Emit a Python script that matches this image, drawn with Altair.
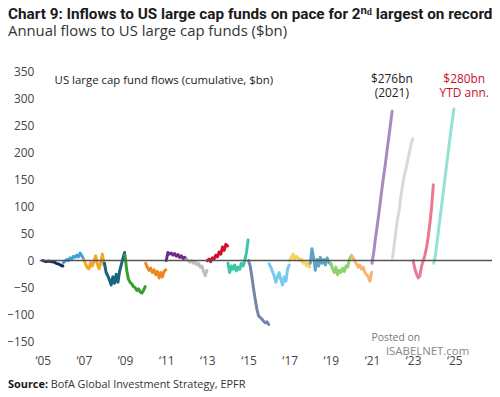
import altair as alt
import pandas as pd

# ---- data (cumulative flows, $bn, ~monthly points) ----
years = list(range(2005, 2025))
flows_2005 = [0, -1, -2, -1, -1, -2, -2, -3, -5, -6, -7, -9, -10]
flows_2006 = [-4, -1, 2, 0, 5, 3, 8, 6, 10, 7, 14, 9, 4]
flows_2007 = [2, -6, -13, -15, -4, -10, -2, 9, -6, -15, -5, 12, -8]
flows_2008 = [-5, -22, -28, -36, -45, -30, -42, -25, -40, -20, -8, 4, 15]
flows_2009 = [10, -18, -34, -40, -43, -48, -50, -55, -52, -58, -60, -55, -48]
flows_2010 = [-5, -12, -18, -14, -22, -17, -26, -20, -32, -22, -30, -20, -17]
flows_2011 = [0, 15, 12, 14, 10, 13, 8, 11, 6, 9, 4, 6, 3]
flows_2012 = [3, 0, -3, 0, -5, -2, -8, -5, -12, -10, -20, -28, -18]
flows_2013 = [0, 3, -2, 5, 3, 10, 7, 16, 12, 25, 19, 30, 27]
flows_2014 = [-5, -22, -10, -16, -8, -19, -12, -16, -5, -10, 0, 15, 38]
flows_2015 = [0, -10, -30, -52, -72, -90, -102, -105, -108, -112, -115, -113, -118]
flows_2016 = [-6, -12, -20, -28, -40, -30, -22, -35, -45, -30, -38, -15, -8]
flows_2017 = [0, 6, 12, 3, 8, 5, 0, 3, -5, -2, -10, -4, -12]
flows_2018 = [-5, 22, 5, -18, 2, -10, 6, -5, 2, -8, 5, -3, -6]
flows_2019 = [-5, -15, -22, -12, -26, -18, -22, -14, -20, -10, -12, 2, 8]
flows_2020 = [10, 5, 0, -6, -12, -8, -16, -12, -22, -26, -30, -38, -22]
flows_2021 = [-5, 15, 40, 62, 85, 110, 135, 158, 180, 205, 228, 252, 276]
flows_2022 = [5, 30, 55, 78, 95, 120, 140, 158, 170, 185, 200, 215, 225]
flows_2023 = [0, -15, -25, -32, -28, -10, 0, 10, 25, 45, 70, 100, 140]
flows_2024 = [-5, 10, 35, 60, 85, 110, 135, 160, 185, 210, 235, 258, 280]

colors = ["#1b2a5e", "#3aa3dc", "#f5a623", "#17657f", "#3a9e2c",
          "#f0861f", "#6b2d87", "#bdbdbd", "#d0102c", "#3cc6a8",
          "#7584ad", "#74cbef", "#f6d35c", "#5ba5c2", "#8bd46b",
          "#f7b374", "#a58bc2", "#d9d9d9", "#ea7a93", "#93e2d3"]

x_ticks = list(range(2005, 2026, 2))
y_ticks = list(range(-150, 351, 50))

all_flows = [flows_2005, flows_2006, flows_2007, flows_2008, flows_2009,
             flows_2010, flows_2011, flows_2012, flows_2013, flows_2014,
             flows_2015, flows_2016, flows_2017, flows_2018, flows_2019,
             flows_2020, flows_2021, flows_2022, flows_2023, flows_2024]

rows = []
for yr, vals in zip(years, all_flows):
    n = len(vals) - 1
    for i, v in enumerate(vals):
        rows.append({"t": yr + i / n * 0.98, "v": v, "year": str(yr)})
df = pd.DataFrame(rows)

W, H = 456, 273
FONT = "Open Sans"

xscale = alt.Scale(domain=[2004.855, 2026.83], nice=False, zero=False)
yscale = alt.Scale(domain=[-150, 350], nice=False, zero=False)
y_axis = alt.Axis(values=y_ticks, title=None, grid=False, domain=False, ticks=False,
                  labelPadding=6, labelFontSize=12, labelColor="#444", labelFont=FONT,
                  labelOverlap=False, labelFlush=False)

lines = alt.Chart(df).mark_line(strokeWidth=3, strokeJoin="round", strokeCap="round").encode(
    x=alt.X("t:Q", scale=xscale,
            axis=alt.Axis(values=x_ticks, title=None, grid=False, domain=False, ticks=False,
                          labelPadding=14, labelFontSize=12, labelColor="#444", labelFont=FONT,
                          labelOverlap=False,
                          labelExpr="'\u2018' + substring(toString(datum.value), 2)")),
    y=alt.Y("v:Q", scale=yscale, axis=y_axis),
    color=alt.Color("year:N", scale=alt.Scale(domain=[str(y) for y in years], range=colors), legend=None),
    order="t:Q",
)

zero = alt.Chart(pd.DataFrame({"z": [0]})).mark_rule(color="#555", strokeWidth=1.5).encode(
    y=alt.Y("z:Q", scale=yscale, axis=y_axis))


def txt(s, x, y, size=12, weight="normal", color="#222", align="left", baseline="middle", font=FONT):
    return alt.Chart(pd.DataFrame({"s": [s]})).mark_text(
        font=font, fontSize=size, fontWeight=weight, color=color, align=align, baseline=baseline
    ).encode(text="s:N", x=alt.value(x), y=alt.value(y))


texts = [
    txt("Chart 9: Inflows to US large cap funds on pace for 2\u207f\u1d48 largest on record",
        -32, -53, size=15.4, weight="bold", color="#1a1a1a", baseline="alphabetic", font="Roboto"),
    txt("Annual flows to US large cap funds ($bn)", -32, -35, size=15, color="#333", baseline="alphabetic"),
    txt("US large cap fund flows (cumulative, $bn)", 15, 10, size=11.5, color="#222"),
    txt("$276bn", 355, 8, size=12, color="#222", align="center"),
    txt("(2021)", 355, 22, size=12, color="#222", align="center"),
    txt("$280bn", 428, 8, size=12, color="#c8102e", align="center"),
    txt("YTD ann.", 428, 22, size=12, color="#c8102e", align="center"),
    txt("Posted on", 359, 269, size=10.5, color="#777", align="center"),
    txt("ISABELNET.com", 391, 283, size=11.5, color="#888", align="center"),
    txt("Source:", -32, 317, size=11, weight="bold", color="#1a1a1a"),
    txt("BofA Global Investment Strategy, EPFR", 11, 317, size=11, color="#333"),
]

chart = alt.layer(lines, zero, *texts).properties(
    width=W, height=H,
    autosize="none",
    padding={"left": 32, "top": 62, "right": 0, "bottom": 51},
).configure_view(stroke=None)

chart.save("out.html", embed_options={"renderer": "svg", "actions": False})
